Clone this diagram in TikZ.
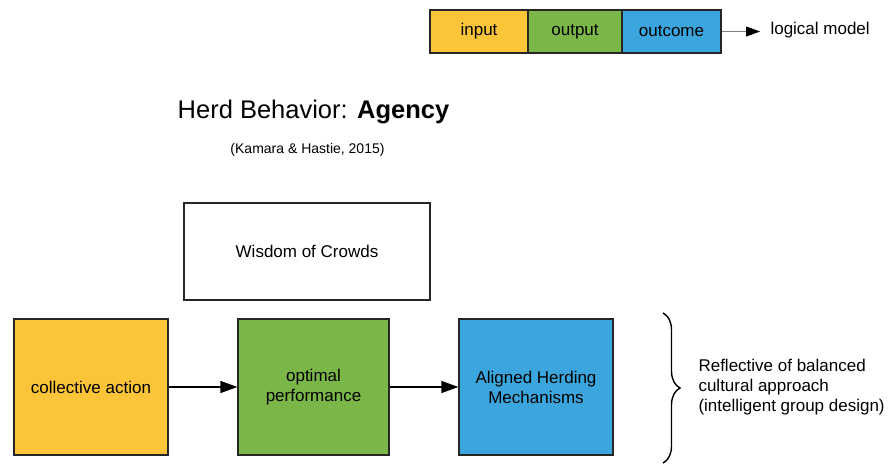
\documentclass[tikz,border=0pt]{standalone}
\usepackage{fontspec}
\setmainfont{Liberation Sans}
\usepackage{tikz}
\usetikzlibrary{arrows,arrows.meta,decorations.pathreplacing,positioning}
\definecolor{ybox}{HTML}{FCC438}
\definecolor{gbox}{HTML}{7AB648}
\definecolor{bbox}{HTML}{3AA6DD}

\begin{document}
\begin{tikzpicture}
[x=1pt,y=-1pt,
txt/.style={font=\fontsize{17}{20}\selectfont},
legbox/.style={txt,draw=black!85,line width=1.2pt,minimum height=43pt,inner sep=0pt},
stagebox/.style={txt,draw=black!85,line width=1.2pt,minimum width=154pt,minimum height=136pt,align=center,inner sep=0pt},
flow/.style={-{Triangle[length=17pt,width=12pt]},line width=1.2pt}]
\useasboundingbox (0,0) rectangle (889,466);

\node[legbox,fill=ybox,minimum width=98pt] (in) at (479,31.5) {input};
\node[legbox,fill=gbox,minimum width=94pt] (out) at (575,31.5) {output};
\node[legbox,fill=bbox,minimum width=99pt] (oc) at (671.5,31.5) {outcome};
\node[txt,anchor=west] (lm) at (767,30) {logical model};
\coordinate (lmend) at (760,31.5);

\node[font=\fontsize{25.5}{30}\selectfont] (title) at (313.5,112) {Herd Behavior: \textbf{Agency}};
\node[font=\fontsize{14}{17}\selectfont] (cite) at (307.5,150) {(Kamara \& Hastie, 2015)};

\node[stagebox,minimum width=246pt,minimum height=97pt] (woc) at (307,251.5) {Wisdom of Crowds};

\node[stagebox,fill=ybox] (ca) at (91,387) {collective action};
\node[stagebox,fill=gbox,minimum width=151pt] (op) at (313.5,387) {optimal\\performance};
\node[stagebox,fill=bbox] (ahm) at (536,387) {Aligned Herding\\Mechanisms};

\coordinate (bt) at (663,313);
\coordinate (bb) at (663,463);
\node[txt,anchor=west,align=left] (refl) at (695,387.5) {Reflective of balanced\\cultural approach\\(intelligent group design)};

\draw [-{Triangle[length=14pt,width=10pt,black]},draw=black!50,line width=0.8pt] (oc) -- (lmend);
\draw [flow] (ca) -- (op);
\draw [flow] (op) -- (ahm);
\draw [decorate,decoration={brace,amplitude=17pt},line width=1.4pt] (bt) -- (bb);
\end{tikzpicture}
\end{document}
